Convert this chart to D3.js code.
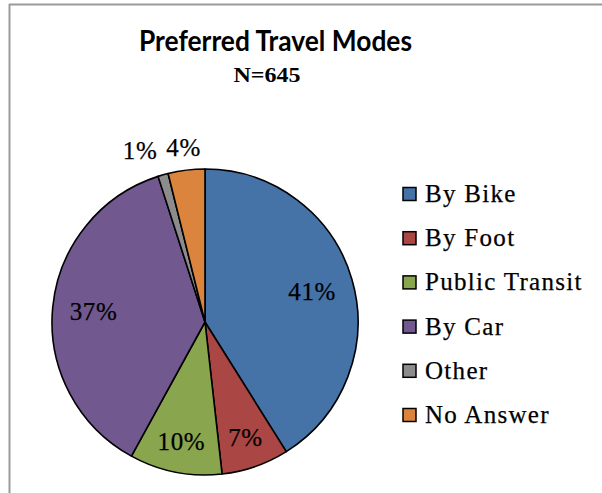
<!DOCTYPE html>
<html>
<head>
<meta charset="utf-8">
<script src="https://cdn.jsdelivr.net/npm/d3@7"></script>
<style>
  html, body { margin: 0; padding: 0; background: #fff; }
  svg { display: block; }
</style>
</head>
<body>
<svg id="chart" width="602" height="493"></svg>
<script>
// ---- data ----
const categories = ["By Bike", "By Foot", "Public Transit", "By Car", "Other", "No Answer"];
const counts = [265, 46, 63, 239, 7, 25];
const colors = ["#4572A7", "#AA4643", "#89A54E", "#71588F", "#8C8C8C", "#DB843D"];
const titleText = "Preferred Travel Modes";
const subtitleText = "N=645";

// ---- layout ----
const W = 602, H = 493;
const cx = 205, cy = 322, R = 153;
const svg = d3.select("#chart");

// frame (partially cropped chart border)
svg.append("line").attr("x1", 9).attr("x2", W).attr("y1", 4.5).attr("y2", 4.5)
  .attr("stroke", "#9a9a9a").attr("stroke-width", 2);
svg.append("line").attr("x1", 9.5).attr("x2", 9.5).attr("y1", 4).attr("y2", H)
  .attr("stroke", "#9a9a9a").attr("stroke-width", 2);

// title
svg.append("text")
  .attr("x", 275.5).attr("y", 50.5)
  .attr("text-anchor", "middle")
  .attr("font-family", "Lato, 'Open Sans', sans-serif")
  .attr("font-weight", 700)
  .attr("font-size", 29)
  .attr("textLength", 273).attr("lengthAdjust", "spacingAndGlyphs")
  .attr("fill", "#000")
  .text(titleText);

svg.append("text")
  .attr("x", 267).attr("y", 82)
  .attr("text-anchor", "middle")
  .attr("font-family", "'Liberation Serif', 'DejaVu Serif', serif")
  .attr("font-weight", 700)
  .attr("font-size", 21.5)
  .attr("textLength", 67).attr("lengthAdjust", "spacingAndGlyphs")
  .attr("fill", "#000")
  .text(subtitleText);

// pie
const total = d3.sum(counts);
const data = categories.map((c, i) => ({ name: c, value: counts[i], color: colors[i] }));
const pie = d3.pie().sort(null).value(d => d.value);
const arcs = pie(data);
const arc = d3.arc().innerRadius(0).outerRadius(R);

const g = svg.append("g").attr("transform", `translate(${cx},${cy})`);
g.selectAll("path.slice")
  .data(arcs)
  .join("path")
  .attr("class", "slice")
  .attr("d", arc)
  .attr("fill", d => d.data.color)
  .attr("stroke", "#000")
  .attr("stroke-width", 1.6)
  .attr("stroke-linejoin", "round");

// labels
const labelFont = "'Liberation Serif', 'Times New Roman', serif";
const labelSize = 25;
const labels = arcs.map(a => {
  const pct = Math.round(a.data.value / total * 100);
  return { a, text: pct + "%", pct };
});

const tmp = g.append("text").attr("font-family", labelFont).attr("font-size", labelSize)
  .attr("letter-spacing", 0.6);
labels.forEach(l => {
  tmp.text(l.text);
  l.w = tmp.node().getComputedTextLength();
  l.h = 17;
});
tmp.remove();

labels.forEach(l => {
  const mid = (l.a.startAngle + l.a.endAngle) / 2;
  const ux = Math.sin(mid), uy = -Math.cos(mid);
  const span = l.a.endAngle - l.a.startAngle;
  l.inside = span > 0.35;
  const hw = l.w / 2, hh = l.h / 2;
  let t;
  if (l.inside) {
    const target = R - 16;
    t = 0;
    for (let s = 0; s < R; s += 0.5) {
      const px = ux * s + Math.sign(ux || 1) * hw, py = uy * s + Math.sign(uy || 1) * hh;
      if (Math.hypot(px, py) > target) break;
      t = s;
    }
  } else {
    const target = R + 13;
    t = R;
    for (let s = R; s < R + 100; s += 0.5) {
      const px = ux * s - Math.sign(ux || 1) * hw, py = uy * s - Math.sign(uy || 1) * hh;
      t = s;
      if (Math.hypot(px, py) >= target) break;
    }
  }
  l.x = ux * t; l.y = uy * t;
});

// resolve overlap of outside labels (shift earlier label left)
const outside = labels.filter(l => !l.inside).sort((a, b) => a.x - b.x);
for (let i = outside.length - 2; i >= 0; i--) {
  const a = outside[i], b = outside[i + 1];
  const gap = (b.x - b.w / 2) - (a.x + a.w / 2);
  if (gap < 9) a.x -= (9 - gap);
}

g.selectAll("text.lbl")
  .data(labels)
  .join("text")
  .attr("class", "lbl")
  .attr("x", d => d.x)
  .attr("y", d => d.y + 8.5)
  .attr("text-anchor", "middle")
  .attr("font-family", labelFont)
  .attr("font-size", labelSize)
  .attr("letter-spacing", 0.6)
  .attr("fill", "#000")
  .attr("stroke", "#000").attr("stroke-width", 0.25)
  .text(d => d.text);

// legend
const legendY = d3.scalePoint().domain(categories).range([194, 415]);
const lg = svg.append("g");
const items = lg.selectAll("g.item").data(data).join("g").attr("class", "item")
  .attr("transform", d => `translate(403,${legendY(d.name)})`);
items.append("rect")
  .attr("x", 0).attr("y", -6.5).attr("width", 13).attr("height", 13)
  .attr("fill", d => d.color).attr("stroke", "#000").attr("stroke-width", 1.5);
items.append("text")
  .attr("x", 22).attr("y", 8)
  .attr("font-family", labelFont)
  .attr("font-size", 25)
  .attr("letter-spacing", 1.3)
  .attr("fill", "#000")
  .attr("stroke", "#000").attr("stroke-width", 0.25)
  .text(d => d.name);
</script>
</body>
</html>
